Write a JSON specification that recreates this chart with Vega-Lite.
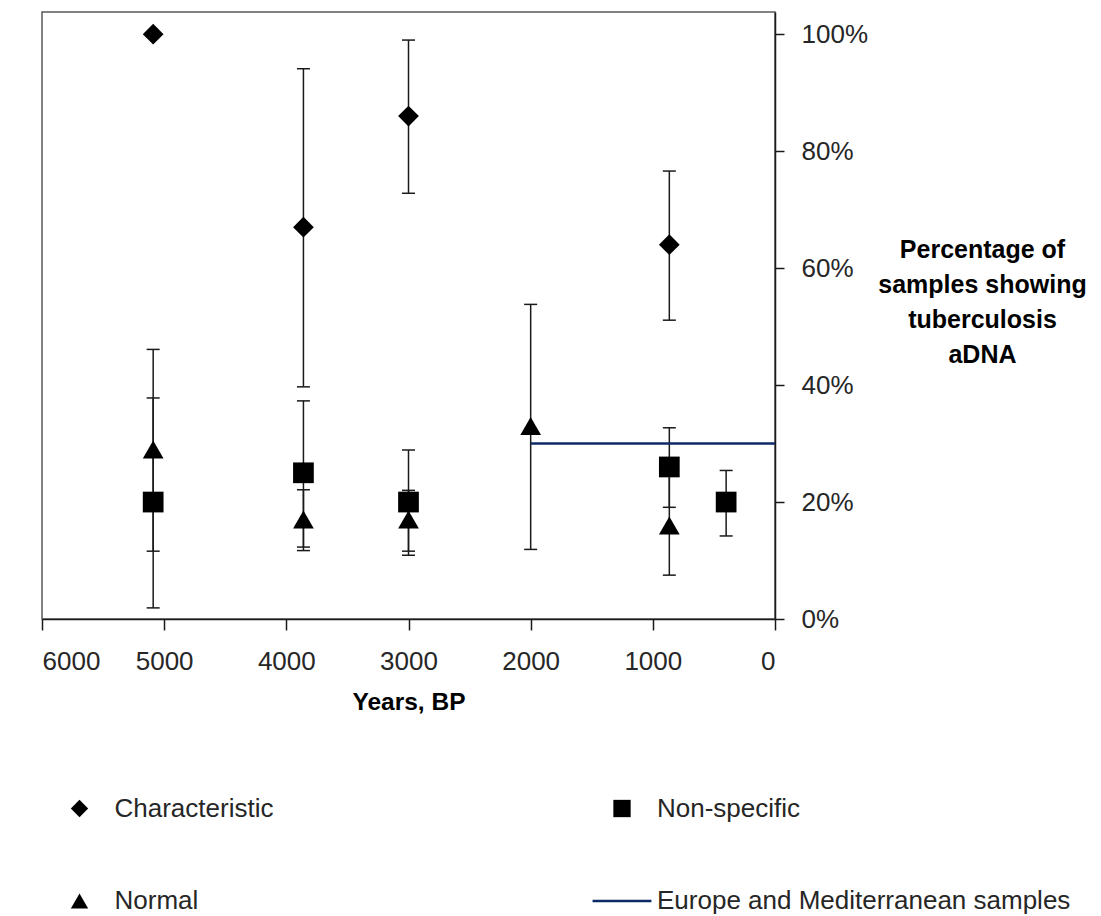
{
  "$schema": "https://vega.github.io/schema/vega-lite/v6.json",
  "width": 733,
  "height": 607,
  "padding": {"left": 41, "top": 12, "right": 0, "bottom": 0},
  "background": "white",
  "datasets": {
    "samples": [
      {"series": "Characteristic", "year": 5090, "value": 1.00},
      {"series": "Characteristic", "year": 3860, "value": 0.67, "lo": 0.397, "hi": 0.941},
      {"series": "Characteristic", "year": 3000, "value": 0.86, "lo": 0.728, "hi": 0.990},
      {"series": "Characteristic", "year": 865, "value": 0.64, "lo": 0.511, "hi": 0.766},
      {"series": "Non-specific", "year": 5090, "value": 0.20, "lo": 0.019, "hi": 0.378},
      {"series": "Non-specific", "year": 3860, "value": 0.25, "lo": 0.123, "hi": 0.373},
      {"series": "Non-specific", "year": 3000, "value": 0.20, "lo": 0.109, "hi": 0.289},
      {"series": "Non-specific", "year": 865, "value": 0.26, "lo": 0.191, "hi": 0.327},
      {"series": "Non-specific", "year": 400, "value": 0.20, "lo": 0.142, "hi": 0.254},
      {"series": "Normal", "year": 5090, "value": 0.29, "lo": 0.116, "hi": 0.461},
      {"series": "Normal", "year": 3860, "value": 0.17, "lo": 0.117, "hi": 0.221},
      {"series": "Normal", "year": 3000, "value": 0.17, "lo": 0.116, "hi": 0.220},
      {"series": "Normal", "year": 2000, "value": 0.33, "lo": 0.119, "hi": 0.538},
      {"series": "Normal", "year": 865, "value": 0.16, "lo": 0.075, "hi": 0.245}
    ],
    "reference": [
      {"series": "Europe and Mediterranean samples", "from": 2000, "to": 0, "value": 0.30}
    ]
  },
  "layer": [
    {
      "data": {"name": "samples"},
      "transform": [{"filter": "isValid(datum.lo)"}],
      "mark": {"type": "rule", "color": "#1a1a1a", "strokeWidth": 1.5},
      "encoding": {
        "x": {
          "field": "year", "type": "quantitative",
          "scale": {"domain": [0, 6000], "reverse": true, "nice": false, "zero": false},
          "axis": {
            "title": "Years, BP",
            "values": [0, 1000, 2000, 3000, 4000, 5000, 6000],
            "format": "d",
            "tickSize": 11,
            "labelPadding": 39,
            "labelBaseline": "alphabetic",
            "titleY": 90,
            "titleBaseline": "alphabetic",
            "titleFontSize": 24.5,
            "titleFontWeight": "bold"
          }
        },
        "y": {
          "field": "lo", "type": "quantitative",
          "scale": {"domain": [0, 1.038], "nice": false},
          "axis": {
            "orient": "right",
            "title": ["Percentage of", "samples showing", "tuberculosis", "aDNA"],
            "values": [0, 0.2, 0.4, 0.6, 0.8, 1.0],
            "format": ".0%",
            "tickSize": 9,
            "labelPadding": 17,
            "titleAngle": 0,
            "titleAlign": "center",
            "titleBaseline": "alphabetic",
            "titleX": 207,
            "titleY": 245,
            "titleLineHeight": 35,
            "titleFontSize": 25,
            "titleFontWeight": "bold"
          }
        },
        "y2": {"field": "hi"}
      }
    },
    {
      "data": {"name": "samples"},
      "transform": [{"filter": "isValid(datum.lo)"}],
      "mark": {"type": "rule", "color": "#1a1a1a", "strokeWidth": 1.5, "xOffset": -6.5, "x2Offset": 6.5},
      "encoding": {
        "x": {"field": "year", "type": "quantitative"},
        "x2": {"field": "year"},
        "y": {"field": "lo", "type": "quantitative"}
      }
    },
    {
      "data": {"name": "samples"},
      "transform": [{"filter": "isValid(datum.hi)"}],
      "mark": {"type": "rule", "color": "#1a1a1a", "strokeWidth": 1.5, "xOffset": -6.5, "x2Offset": 6.5},
      "encoding": {
        "x": {"field": "year", "type": "quantitative"},
        "x2": {"field": "year"},
        "y": {"field": "hi", "type": "quantitative"}
      }
    },
    {
      "data": {"name": "reference"},
      "mark": {"type": "rule", "color": "#0e2a66", "strokeWidth": 2.6},
      "encoding": {
        "x": {"field": "from", "type": "quantitative"},
        "x2": {"field": "to"},
        "y": {"field": "value", "type": "quantitative"}
      }
    },
    {
      "data": {"name": "samples"},
      "mark": {"type": "point", "filled": true, "size": 430, "opacity": 1, "strokeWidth": 0},
      "encoding": {
        "x": {"field": "year", "type": "quantitative"},
        "y": {"field": "value", "type": "quantitative"},
        "shape": {
          "field": "series", "type": "nominal",
          "scale": {
            "domain": ["Characteristic", "Normal", "Non-specific", "Europe and Mediterranean samples"],
            "range": ["diamond", "triangle-up", "square", "M-3.4,-0.15H3.4V0.15H-3.4Z"]
          },
          "legend": {"title": null}
        },
        "color": {
          "field": "series", "type": "nominal",
          "scale": {
            "domain": ["Characteristic", "Normal", "Non-specific", "Europe and Mediterranean samples"],
            "range": ["#000000", "#000000", "#000000", "#0e2a66"]
          },
          "legend": {"title": null}
        }
      }
    }
  ],
  "config": {
    "font": "Liberation Sans",
    "view": {"stroke": "#595959", "strokeWidth": 1.5},
    "axis": {
      "grid": false,
      "domainColor": "#1a1a1a",
      "domainWidth": 1.5,
      "tickColor": "#1a1a1a",
      "tickWidth": 1.5,
      "labelFont": "Liberation Sans",
      "labelFontSize": 26,
      "labelColor": "#262626",
      "titleFont": "Liberation Sans",
      "titleColor": "#000000"
    },
    "legend": {
      "orient": "none",
      "legendX": 24.5,
      "legendY": 783.5,
      "columns": 2,
      "columnPadding": 318.5,
      "rowPadding": 66.5,
      "padding": 0,
      "symbolSize": 300,
      "symbolStrokeWidth": 0,
      "labelFont": "Liberation Sans",
      "labelFontSize": 26,
      "labelColor": "#262626",
      "labelOffset": 22,
      "labelLimit": 700
    }
  }
}
